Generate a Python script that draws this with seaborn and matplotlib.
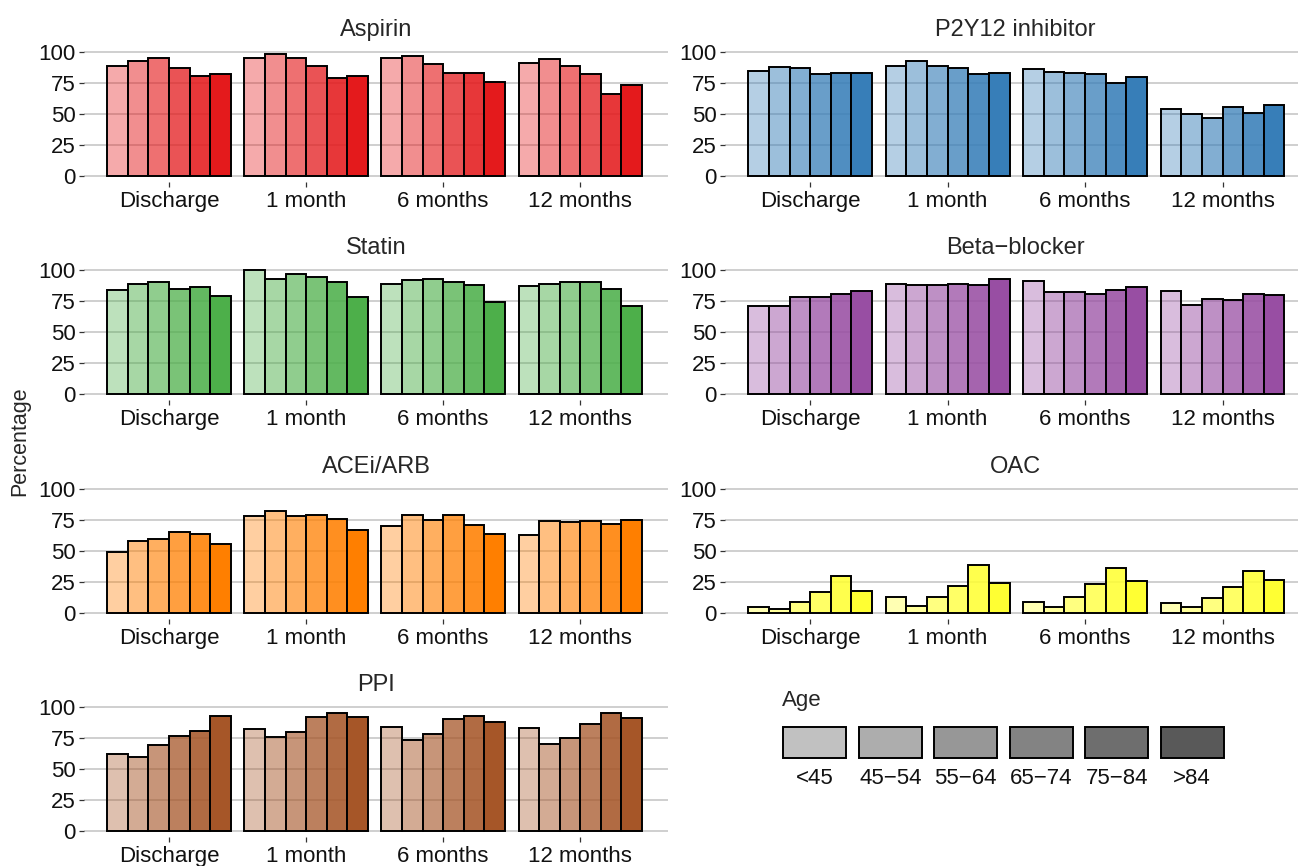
import matplotlib
matplotlib.use('Agg')
import matplotlib.pyplot as plt
import matplotlib.colors as mcolors
import numpy as np
import pandas as pd
import seaborn as sns

sns.set_style('white')
plt.rcParams['font.family'] = ['Liberation Sans', 'DejaVu Sans']

# Data (percent of patients)
times = ['Discharge', '1 month', '6 months', '12 months']
ages = ['<45', '45\u221254', '55\u221264', '65\u221274', '75\u221284', '>84']
drugs = ['Aspirin', 'P2Y12 inhibitor', 'Statin', 'Beta\u2212blocker', 'ACEi/ARB', 'OAC', 'PPI']
drug_colors = ['#E41A1C', '#377EB8', '#4DAF4A', '#984EA3', '#FF7F00', '#FFFF33', '#A65628']

aspirin = [[89, 93, 95, 87, 81, 82],
           [95, 98, 95, 89, 79, 81],
           [95, 97, 90, 83, 83, 76],
           [91, 94, 89, 82, 66, 73]]
p2y12 = [[85, 88, 87, 82, 83, 83],
         [89, 93, 89, 87, 82, 83],
         [86, 84, 83, 82, 75, 80],
         [54, 50, 47, 56, 51, 57]]
statin = [[84, 89, 90, 85, 86, 79],
          [100, 93, 97, 94, 90, 78],
          [89, 92, 93, 90, 88, 74],
          [87, 89, 90, 90, 85, 71]]
beta_blocker = [[71, 71, 78, 78, 81, 83],
                [89, 88, 88, 89, 88, 93],
                [91, 82, 82, 81, 84, 86],
                [83, 72, 77, 76, 81, 80]]
acei_arb = [[49, 58, 60, 65, 64, 56],
            [78, 82, 78, 79, 76, 67],
            [70, 79, 75, 79, 71, 64],
            [63, 74, 73, 74, 72, 75]]
oac = [[5, 3, 9, 17, 30, 18],
       [13, 6, 13, 22, 39, 24],
       [9, 5, 13, 23, 36, 26],
       [8, 5, 12, 21, 34, 27]]
ppi = [[62, 60, 69, 77, 81, 93],
       [82, 76, 80, 92, 95, 92],
       [84, 73, 78, 90, 93, 88],
       [83, 70, 75, 86, 95, 91]]
values = [aspirin, p2y12, statin, beta_blocker, acei_arb, oac, ppi]

alphas = np.linspace(0.37, 1.0, len(ages))

W, H = 1298, 866
fig = plt.figure(figsize=(W / 100, H / 100), dpi=100)

col_x = [(84, 584, 3.64), (725, 580, 3.60)]
row_y100 = [52, 270, 489, 707]
unit = 124 / 100

for i, (drug, vals, col) in enumerate(zip(drugs, values, drug_colors)):
    r, c = divmod(i, 2)
    x0, w, xr = col_x[c]
    top = row_y100[r] - 5 * unit
    h = 110 * unit
    ax = fig.add_axes([x0 / W, 1 - (top + h) / H, w / W, h / H])

    df = pd.DataFrame([(t, a, vals[ti][ai]) for ti, t in enumerate(times)
                       for ai, a in enumerate(ages)], columns=['time', 'age', 'value'])
    sns.barplot(data=df, x='time', y='value', hue='age', order=times, hue_order=ages,
                palette=[col] * len(ages), width=0.9, edgecolor='black', linewidth=1.4,
                legend=False, ax=ax, errorbar=None)
    rgb = mcolors.to_rgb(col)
    for k, cont in enumerate(ax.containers):
        for p in cont:
            p.set_facecolor((*rgb, alphas[k]))

    ax.set_xlim(-0.62, xr)
    ax.set_ylim(-5, 105)
    ax.set_yticks([0, 25, 50, 75, 100])
    ax.set_axisbelow(True)
    ax.yaxis.grid(True, color='#CCCCCC', linewidth=1.3)
    ax.xaxis.grid(False)
    for s in ax.spines.values():
        s.set_visible(False)
    ax.tick_params(axis='both', length=3.5, width=0.9, color='#333333', labelsize=16,
                   labelcolor='#111111', pad=2.5, left=True, bottom=True)
    ax.set_xlabel('')
    ax.set_ylabel('')
    ax.set_title(drug, fontsize=17, pad=7)

fig.text(20 / W, 1 - 441 / H, 'Percentage', rotation=90, ha='center', va='center', fontsize=15.5)

# Legend for age groups (alpha levels)
lax = fig.add_axes([777 / W, 1 - 760 / H, 453 / W, 35 / H])
lax.bar(range(len(ages)), 1, width=0.83, color='#595959', edgecolor='black', linewidth=1.4)
for k, p in enumerate(lax.patches):
    p.set_facecolor((*mcolors.to_rgb('#595959'), alphas[k]))
lax.set_xlim(-0.5, len(ages) - 0.5)
lax.set_ylim(-0.05, 1.05)
lax.axis('off')
for k, a in enumerate(ages):
    lax.text(k, -0.3, a, ha='center', va='top', fontsize=16, color='#111111')
lax.text(-0.44, 1.5, 'Age', ha='left', va='bottom', fontsize=16)

fig.savefig('out.png', dpi=100)
